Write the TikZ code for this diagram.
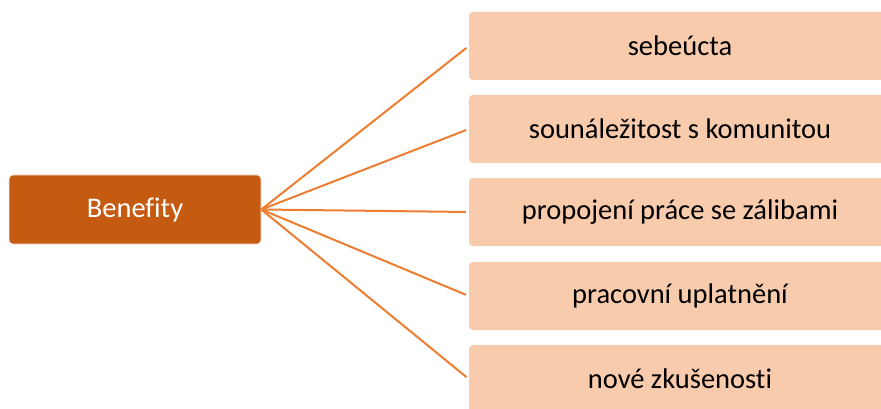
\documentclass[tikz,border=0pt]{standalone}
\usepackage{fontspec}
\setmainfont[Ligatures=NoCommon]{Carlito}
\usepackage{xcolor}

\definecolor{hubfill}{HTML}{C55A11}
\definecolor{leaffill}{HTML}{F8CBAD}
\definecolor{linkline}{HTML}{ED7D31}

\tikzset{
  hubbox/.style={fill=hubfill, draw=white!85!hubfill, line width=0.6pt, rounded corners=4pt,
    minimum width=252pt, minimum height=69pt, inner sep=0pt, text=white,
    font=\fontsize{28.5}{34}\selectfont},
  leafbox/.style={fill=leaffill, rounded corners=4pt,
    minimum width=422pt, minimum height=68pt, inner sep=0pt, text=black,
    font=\fontsize{28.5}{34}\selectfont},
  link/.style={draw=linkline, line width=2pt, shorten >=3pt}
}

\begin{document}
\begin{tikzpicture}[x=1pt,y=1pt,yscale=-1,xscale=1]
\clip (0,0) rectangle (881,409);

% Hub
\node [hubbox] (benefity) at (135,209.5) {Benefity};

% Leaves
\node [leafbox] (sebeucta) at (680,46) {sebeúcta};
\node [leafbox] (komunita) at (680,129) {sounáležitost s komunitou};
\node [leafbox] (zaliby) at (680,212) {propojení práce se zálibami};
\node [leafbox] (uplatneni) at (680,296) {pracovní uplatnění};
\node [leafbox] (zkusenosti) at (680,379) {nové zkušenosti};

% Links
\draw [link] (benefity.east) -- (sebeucta.west);
\draw [link] (benefity.east) -- (komunita.west);
\draw [link] (benefity.east) -- (zaliby.west);
\draw [link] (benefity.east) -- (uplatneni.west);
\draw [link] (benefity.east) -- (zkusenosti.west);
\end{tikzpicture}
\end{document}
